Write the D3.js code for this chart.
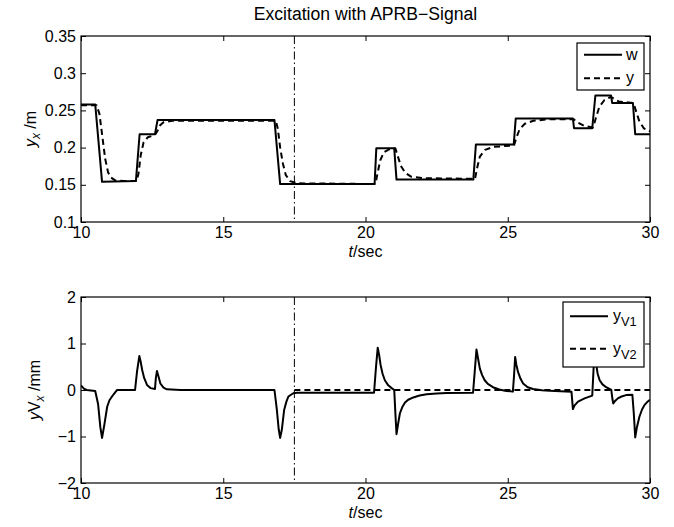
<!DOCTYPE html>
<html>
<head>
<meta charset="utf-8">
<script src="https://cdn.jsdelivr.net/npm/d3@7"></script>
<style>
  html, body { margin: 0; padding: 0; background: #fff; }
  svg { display: block; font-family: "Liberation Sans", Arial, Helvetica, sans-serif; }
</style>
</head>
<body>
<svg id="chart" width="674" height="527"></svg>
<script>
// ---- data ----
const chartTitle = "Excitation with APRB\u2212Signal";

const xTicks = [10, 15, 20, 25, 30];
const xTickLabels = ["10", "15", "20", "25", "30"];
const switchTime = 17.5;

const topYTicks = [0.1, 0.15, 0.2, 0.25, 0.3, 0.35];
const topYTickLabels = ["0.1", "0.15", "0.2", "0.25", "0.3", "0.35"];
const bottomYTicks = [-2, -1, 0, 1, 2];
const bottomYTickLabels = ["\u22122", "\u22121", "0", "1", "2"];

// reference w (solid) as [t, value]
const wSeries = [
  [10, 0.258], [10.5, 0.258], [10.74, 0.154], [11.93, 0.155], [12.06, 0.218],
  [12.6, 0.218], [12.69, 0.237], [16.8, 0.237], [17.0, 0.151], [20.32, 0.151],
  [20.38, 0.199], [21.01, 0.199], [21.09, 0.157], [23.79, 0.157], [23.88, 0.204],
  [25.21, 0.204], [25.28, 0.239], [27.29, 0.239], [27.33, 0.226], [27.97, 0.226],
  [28.08, 0.270], [28.63, 0.270], [28.67, 0.260], [29.4, 0.260], [29.48, 0.218],
  [30, 0.218]
];

// output y (dashed) as [t, value]
const ySeries = [
  [10, 0.257], [10.55, 0.257], [10.65, 0.245], [10.75, 0.215], [10.85, 0.185],
  [10.95, 0.167], [11.05, 0.160], [11.2, 0.156], [11.5, 0.155], [11.95, 0.155],
  [12.02, 0.165], [12.1, 0.190], [12.2, 0.207], [12.35, 0.214], [12.6, 0.217],
  [12.68, 0.222], [12.78, 0.230], [12.9, 0.234], [13.2, 0.236], [16.85, 0.236],
  [16.92, 0.225], [17.0, 0.200], [17.1, 0.178], [17.2, 0.163], [17.35, 0.155],
  [17.6, 0.152], [20.35, 0.151], [20.42, 0.165], [20.52, 0.183], [20.65, 0.194],
  [20.85, 0.198], [21.05, 0.199], [21.12, 0.190], [21.25, 0.175], [21.4, 0.166],
  [21.6, 0.161], [22.0, 0.159], [23.85, 0.158], [23.92, 0.172], [24.02, 0.188],
  [24.2, 0.197], [24.5, 0.201], [25.22, 0.203], [25.3, 0.213], [25.42, 0.225],
  [25.6, 0.232], [25.9, 0.236], [26.4, 0.238], [27.32, 0.238], [27.45, 0.234],
  [27.7, 0.229], [28.0, 0.227], [28.1, 0.240], [28.22, 0.255], [28.4, 0.264],
  [28.62, 0.268], [28.72, 0.266], [28.9, 0.262], [29.42, 0.260], [29.5, 0.250],
  [29.62, 0.236], [29.78, 0.226], [30, 0.222]
];

// y_V1 (solid) as [t, value]
const yV1Series = [
  [10, 0.10], [10.1, 0.03], [10.2, 0.0], [10.5, -0.02], [10.6, -0.30],
  [10.68, -0.80], [10.74, -1.03], [10.82, -0.75], [10.92, -0.36], [11.0, -0.22],
  [11.09, -0.14], [11.2, -0.05], [11.27, 0.0], [11.9, 0.0], [11.97, 0.40],
  [12.05, 0.73], [12.1, 0.60], [12.15, 0.43], [12.22, 0.26], [12.32, 0.11],
  [12.45, 0.04], [12.6, 0.02], [12.63, 0.25], [12.67, 0.41], [12.72, 0.30],
  [12.79, 0.14], [12.9, 0.05], [13.02, 0.015], [13.5, 0.0], [16.8, 0.0],
  [16.88, -0.40], [16.95, -0.85], [17.0, -1.03], [17.06, -0.85], [17.14, -0.43],
  [17.22, -0.25], [17.29, -0.14], [17.46, -0.07], [17.6, -0.06], [20.3, -0.06],
  [20.37, 0.50], [20.43, 0.91], [20.48, 0.75], [20.53, 0.54], [20.6, 0.35],
  [20.68, 0.21], [20.8, 0.10], [20.92, 0.04], [21.01, 0.0], [21.05, -0.50],
  [21.09, -0.95], [21.14, -0.75], [21.21, -0.50], [21.3, -0.36], [21.39, -0.27],
  [21.5, -0.21], [21.68, -0.16], [21.9, -0.12], [22.15, -0.09], [22.5, -0.075],
  [22.85, -0.065], [23.78, -0.06], [23.84, 0.40], [23.9, 0.87], [23.95, 0.70],
  [24.02, 0.46], [24.1, 0.32], [24.19, 0.21], [24.3, 0.13], [24.48, 0.06],
  [24.7, 0.01], [24.95, -0.02], [25.18, -0.035], [25.22, 0.30], [25.26, 0.71],
  [25.3, 0.55], [25.36, 0.39], [25.45, 0.24], [25.54, 0.14], [25.7, 0.06],
  [25.89, 0.02], [26.2, -0.005], [26.47, -0.015], [27.24, -0.035], [27.29, -0.41],
  [27.35, -0.33], [27.47, -0.25], [27.7, -0.18], [27.97, -0.12], [28.02, 0.50],
  [28.06, 0.90], [28.11, 0.55], [28.16, 0.35], [28.23, 0.21], [28.33, 0.12],
  [28.46, 0.06], [28.64, 0.0], [28.68, -0.20], [28.71, -0.29], [28.78, -0.23],
  [28.87, -0.18], [29.0, -0.14], [29.16, -0.11], [29.38, -0.10], [29.43, -0.50],
  [29.48, -1.02], [29.54, -0.80], [29.63, -0.57], [29.72, -0.42], [29.81, -0.32],
  [29.9, -0.26], [30, -0.21]
];

// y_V2 (dashed) as [t, value]
const yV2Series = [[17.5, 0], [30, 0]];

// ---- layout ----
const svg = d3.select('#chart');
const FONT = 16;
const left = 81, right = 650;

const panels = [
  {
    top: 36, bottom: 222, domain: [0.1, 0.35],
    yTicks: topYTicks, yTickLabels: topYTickLabels,
    lines: [
      { data: wSeries, dash: null },
      { data: ySeries, dash: '6,4' }
    ],
    ylabelX: 36,
    legend: { x: 577, y: 43, w: 67, h: 47, entries: [
      { dash: null, main: 'w', sub: '' },
      { dash: '6,4', main: 'y', sub: '' }
    ] }
  },
  {
    top: 297, bottom: 483, domain: [-2, 2],
    yTicks: bottomYTicks, yTickLabels: bottomYTickLabels,
    lines: [
      { data: yV1Series, dash: null },
      { data: yV2Series, dash: '6,4' }
    ],
    ylabelX: 40,
    legend: { x: 563, y: 302, w: 81, h: 65, entries: [
      { dash: null, main: 'y', sub: 'V1' },
      { dash: '6,4', main: 'y', sub: 'V2' }
    ] }
  }
];

const x = d3.scaleLinear().domain([10, 30]).range([left, right]);

// title
svg.append('text')
  .attr('x', (left + right) / 2)
  .attr('y', 20)
  .attr('text-anchor', 'middle')
  .style('font-size', (FONT * 1.1) + 'px')
  .text(chartTitle);

panels.forEach((p, idx) => {
  const y = d3.scaleLinear().domain(p.domain).range([p.bottom, p.top]);
  const g = svg.append('g');

  // clip for data
  const clipId = 'clip' + idx;
  svg.append('clipPath').attr('id', clipId)
    .append('rect')
    .attr('x', left).attr('y', p.top)
    .attr('width', right - left).attr('height', p.bottom - p.top);

  // switch marker (dash-dot)
  g.append('line')
    .attr('x1', x(switchTime)).attr('x2', x(switchTime))
    .attr('y1', p.top).attr('y2', p.bottom)
    .attr('stroke', '#000')
    .attr('stroke-width', 1)
    .attr('stroke-dasharray', '8,3,1.5,3');

  // data lines
  const line = d3.line().x(d => x(d[0])).y(d => y(d[1]));
  p.lines.forEach(l => {
    g.append('path')
      .datum(l.data)
      .attr('clip-path', `url(#${clipId})`)
      .attr('fill', 'none')
      .attr('stroke', '#000')
      .attr('stroke-width', 2)
      .attr('stroke-linejoin', 'round')
      .attr('stroke-dasharray', l.dash)
      .attr('d', line);
  });

  // axes, ticks pointing inwards
  const styleAxis = sel => {
    sel.select('.domain').remove();
    sel.selectAll('line').attr('stroke', '#000');
    sel.selectAll('text').style('font-size', FONT + 'px').attr('fill', '#000')
      .style('font-family', '"Liberation Sans", Arial, sans-serif');
  };

  g.append('g')
    .attr('transform', `translate(0,${p.bottom})`)
    .call(d3.axisBottom(x).tickValues(xTicks)
      .tickFormat((d, i) => xTickLabels[i])
      .tickSizeInner(-5).tickSizeOuter(0).tickPadding(5))
    .call(styleAxis);

  g.append('g')
    .attr('transform', `translate(0,${p.top})`)
    .call(d3.axisTop(x).tickValues(xTicks).tickFormat('')
      .tickSizeInner(-5).tickSizeOuter(0))
    .call(styleAxis);

  g.append('g')
    .attr('transform', `translate(${left},0)`)
    .call(d3.axisLeft(y).tickValues(p.yTicks)
      .tickFormat((d, i) => p.yTickLabels[i])
      .tickSizeInner(-5).tickSizeOuter(0).tickPadding(5))
    .call(styleAxis);

  g.append('g')
    .attr('transform', `translate(${right},0)`)
    .call(d3.axisRight(y).tickValues(p.yTicks).tickFormat('')
      .tickSizeInner(-5).tickSizeOuter(0))
    .call(styleAxis);

  // box
  g.append('rect')
    .attr('x', left).attr('y', p.top)
    .attr('width', right - left).attr('height', p.bottom - p.top)
    .attr('fill', 'none')
    .attr('stroke', '#000')
    .attr('stroke-width', 1.2);

  // x label, sits just under the tick labels
  const xl = g.append('text')
    .attr('x', (left + right) / 2)
    .attr('y', p.bottom + 35)
    .attr('text-anchor', 'middle')
    .style('font-size', FONT + 'px');
  xl.append('tspan').style('font-style', 'italic').text('t');
  xl.append('tspan').text('/sec');

  // y label
  const cy = (p.top + p.bottom) / 2;
  const yl = g.append('text')
    .attr('transform', `translate(${p.ylabelX},${cy}) rotate(-90)`)
    .attr('text-anchor', 'middle')
    .style('font-size', FONT + 'px');
  yl.append('tspan').style('font-style', 'italic').text('y');
  if (idx === 1) yl.append('tspan').text('V');
  yl.append('tspan').style('font-style', 'italic').style('font-size', (FONT * 0.75) + 'px')
    .attr('dy', 4).text('x');
  yl.append('tspan').attr('dy', -4).text(idx === 1 ? ' /mm' : ' /m');

  // legend
  const L = p.legend;
  const lg = g.append('g');
  lg.append('rect')
    .attr('x', L.x).attr('y', L.y).attr('width', L.w).attr('height', L.h)
    .attr('fill', '#fff').attr('stroke', '#000').attr('stroke-width', 1.2);
  const rowH = L.h / L.entries.length;
  L.entries.forEach((e, i) => {
    const ry = L.y + rowH * (i + 0.5) + (idx === 1 ? -2 : 0);
    lg.append('line')
      .attr('x1', L.x + 7).attr('x2', L.x + 45)
      .attr('y1', ry).attr('y2', ry)
      .attr('stroke', '#000').attr('stroke-width', 2)
      .attr('stroke-dasharray', e.dash);
    const t = lg.append('text')
      .attr('x', L.x + (idx === 1 ? 50 : 49))
      .attr('y', ry + 5)
      .style('font-size', FONT + 'px');
    t.append('tspan').text(e.main);
    if (e.sub) {
      t.append('tspan').attr('dy', 5).style('font-size', (FONT * 0.8) + 'px').text(e.sub);
    }
  });
});
</script>
</body>
</html>
